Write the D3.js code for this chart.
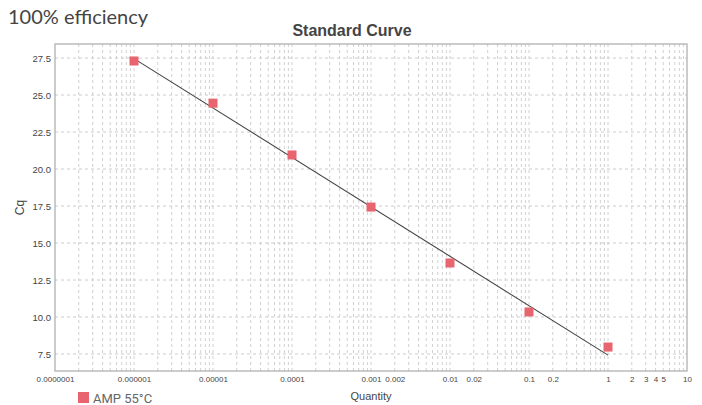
<!DOCTYPE html>
<html><head><meta charset="utf-8">
<script src="https://cdn.jsdelivr.net/npm/d3@7"></script>
<style>body{margin:0;background:#fff}svg{display:block}</style>
</head><body><svg id="c" width="702" height="405"></svg>
<script>
const quantities = [1e-6, 1e-5, 1e-4, 1e-3, 1e-2, 1e-1, 1];
const cqValues = [27.3, 24.45, 20.95, 17.43, 13.65, 10.34, 7.97];
const xTickValues = [1e-7, 1e-6, 1e-5, 1e-4, 1e-3, 2e-3, 1e-2, 2e-2, 0.1, 0.2, 1, 2, 3, 4, 5, 10];
const xTickLabels = ["0.0000001","0.000001","0.00001","0.0001","0.001","0.002","0.01","0.02","0.1","0.2","1","2","3","4","5","10"];
const yTickValues = [7.5, 10, 12.5, 15, 17.5, 20, 22.5, 25, 27.5];
const seriesName = "AMP 55°C";

const svg = d3.select("#c");
const L = 55, R = 687, T = 44, B = 371;
const x = d3.scaleLog().domain([1e-7, 10]).range([L, R]);
const y = d3.scaleLinear().domain([6.35, 28.45]).range([B, T]);

// minor vertical grid
const minor = [];
for (let e = -7; e < 1; e++) for (let m = 1; m <= 9; m++) minor.push(m * Math.pow(10, e));
minor.push(10);
svg.append("g").selectAll("line").data(minor.filter(v => v > 1e-7 && v < 10)).join("line")
  .attr("x1", d => x(d)).attr("x2", d => x(d)).attr("y1", T).attr("y2", B)
  .attr("stroke", "#d0d0d0").attr("stroke-width", 1).attr("stroke-dasharray", "3,3");
svg.append("g").selectAll("line").data(yTickValues).join("line")
  .attr("x1", L).attr("x2", R).attr("y1", d => y(d)).attr("y2", d => y(d))
  .attr("stroke", "#cccccc").attr("stroke-width", 1).attr("stroke-dasharray", "3,3");

// frame
svg.append("rect").attr("x", L).attr("y", T).attr("width", R - L).attr("height", B - T)
  .attr("fill", "none").attr("stroke", "#aaa").attr("stroke-width", 1.2);

// axes
const yAxis = d3.axisLeft(y).tickValues(yTickValues).tickFormat(d3.format(".1f")).tickSize(0).tickPadding(4);
const gy = svg.append("g").attr("transform", `translate(${L},0)`).call(yAxis);
gy.select(".domain").remove();
gy.selectAll("text").attr("font-family", "Liberation Sans, Arial").attr("font-size", 9.5).attr("fill", "#444");

const xAxis = d3.axisBottom(x).tickValues(xTickValues).tickFormat((d, i) => xTickLabels[i]).tickSize(0).tickPadding(5);
const gx = svg.append("g").attr("transform", `translate(0,${B})`).call(xAxis);
gx.select(".domain").remove();
gx.selectAll("text").attr("font-family", "Liberation Sans, Arial").attr("font-size", 8).attr("fill", "#444");

// fit line (least squares on log10 quantity)
const lx = quantities.map(q => Math.log10(q));
const mx = d3.mean(lx), my = d3.mean(cqValues);
const slope = d3.sum(lx.map((v, i) => (v - mx) * (cqValues[i] - my))) / d3.sum(lx.map(v => (v - mx) ** 2));
const icpt = my - slope * mx;
const ends = [quantities[0], quantities[quantities.length - 1]];
svg.append("path")
  .attr("d", d3.line().x(d => x(d)).y(d => y(icpt + slope * Math.log10(d)))(ends))
  .attr("stroke", "#444").attr("stroke-width", 1.1).attr("fill", "none");

// markers
const s = 9;
svg.append("g").selectAll("rect").data(quantities).join("rect")
  .attr("x", d => x(d) - s / 2).attr("y", (d, i) => y(cqValues[i]) - s / 2)
  .attr("width", s).attr("height", s).attr("fill", "#e8646e");

// texts
svg.append("text").attr("x", 8).attr("y", 24).text("100% efficiency")
  .attr("font-family", "Lato").attr("font-size", 20).attr("fill", "#444");
svg.append("text").attr("x", 352).attr("y", 36).attr("text-anchor", "middle").text("Standard Curve")
  .attr("font-family", "Liberation Sans, Arial").attr("font-weight", "bold").attr("font-size", 16).attr("fill", "#444");
svg.append("text").attr("transform", `translate(24,${(T + B) / 2}) rotate(-90)`).attr("text-anchor", "middle").text("Cq")
  .attr("font-family", "Liberation Sans, Arial").attr("font-size", 12).attr("fill", "#444");
svg.append("text").attr("x", 371).attr("y", 400).attr("text-anchor", "middle").text("Quantity")
  .attr("font-family", "Liberation Sans, Arial").attr("font-size", 11).attr("fill", "#444");

// legend
svg.append("rect").attr("x", 78).attr("y", 392).attr("width", 11).attr("height", 11).attr("fill", "#e8646e");
svg.append("text").attr("x", 93).attr("y", 403).text(seriesName)
  .attr("font-family", "Roboto").attr("font-size", 13).attr("fill", "#666");
</script></body></html>
